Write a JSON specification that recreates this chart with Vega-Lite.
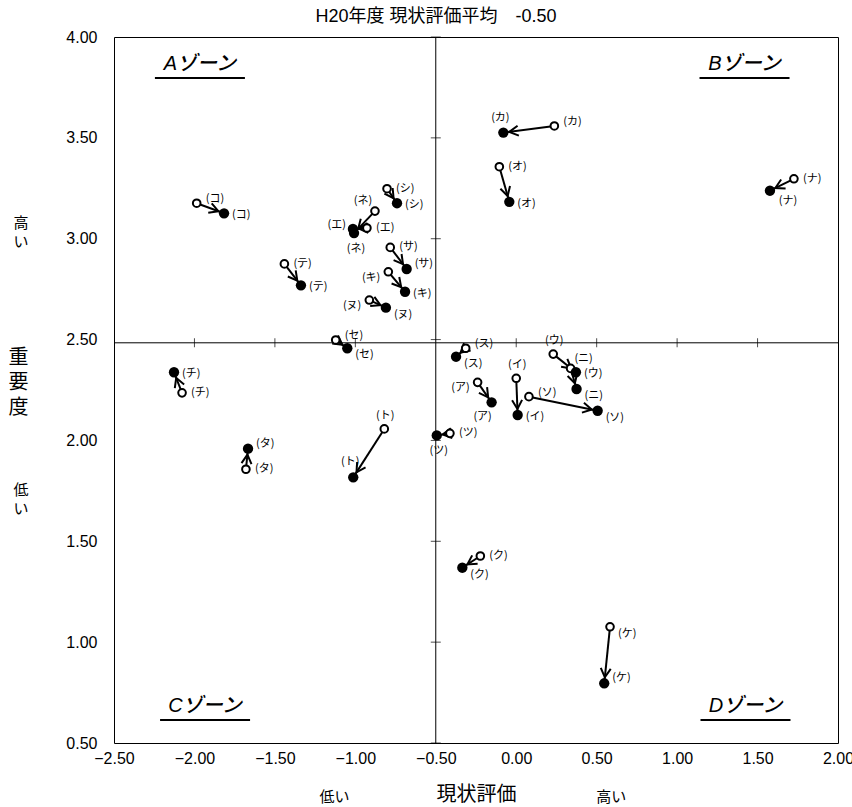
{
  "$schema": "https://vega.github.io/schema/vega-lite/v6.json",
  "width": 724,
  "height": 706,
  "autosize": "none",
  "padding": {"left": 114, "top": 37, "right": 14, "bottom": 64},
  "background": "white",
  "title": {
    "text": "H20年度 現状評価平均　-0.50",
    "font": "Liberation Sans, Noto Sans CJK JP",
    "fontSize": 18,
    "fontWeight": "normal",
    "color": "black",
    "anchor": "middle",
    "dx": -40,
    "offset": 3
  },
  "config": {
    "view": {"stroke": "black", "strokeWidth": 1},
    "text": {"font": "Noto Sans CJK JP", "fontSize": 11, "baseline": "middle", "color": "black", "lineBreak": "\n"}
  },
  "datasets": {
    "pts": [
      {"name": "(ア)", "x0": -0.240, "y0": 2.288, "x1": -0.153, "y1": 2.189},
      {"name": "(イ)", "x0": 0.000, "y0": 2.308, "x1": 0.009, "y1": 2.126},
      {"name": "(ウ)", "x0": 0.230, "y0": 2.428, "x1": 0.371, "y1": 2.338},
      {"name": "(エ)", "x0": -0.928, "y0": 3.053, "x1": -1.015, "y1": 3.048},
      {"name": "(オ)", "x0": -0.105, "y0": 3.357, "x1": -0.043, "y1": 3.183},
      {"name": "(カ)", "x0": 0.237, "y0": 3.559, "x1": -0.080, "y1": 3.526},
      {"name": "(キ)", "x0": -0.795, "y0": 2.836, "x1": -0.691, "y1": 2.737},
      {"name": "(ク)", "x0": -0.223, "y0": 1.427, "x1": -0.335, "y1": 1.369},
      {"name": "(ケ)", "x0": 0.583, "y0": 1.076, "x1": 0.547, "y1": 0.796},
      {"name": "(コ)", "x0": -1.986, "y0": 3.176, "x1": -1.816, "y1": 3.126},
      {"name": "(サ)", "x0": -0.783, "y0": 2.957, "x1": -0.681, "y1": 2.850},
      {"name": "(シ)", "x0": -0.803, "y0": 3.248, "x1": -0.741, "y1": 3.176},
      {"name": "(ス)", "x0": -0.314, "y0": 2.457, "x1": -0.374, "y1": 2.415},
      {"name": "(セ)", "x0": -1.122, "y0": 2.498, "x1": -1.050, "y1": 2.457},
      {"name": "(ソ)", "x0": 0.079, "y0": 2.217, "x1": 0.506, "y1": 2.147},
      {"name": "(タ)", "x0": -1.680, "y0": 1.857, "x1": -1.667, "y1": 1.959},
      {"name": "(チ)", "x0": -2.077, "y0": 2.236, "x1": -2.127, "y1": 2.338},
      {"name": "(ツ)", "x0": -0.412, "y0": 2.035, "x1": -0.494, "y1": 2.025},
      {"name": "(テ)", "x0": -1.441, "y0": 2.875, "x1": -1.338, "y1": 2.769},
      {"name": "(ト)", "x0": -0.820, "y0": 2.057, "x1": -1.013, "y1": 1.817},
      {"name": "(ナ)", "x0": 1.726, "y0": 3.297, "x1": 1.577, "y1": 3.238},
      {"name": "(ニ)", "x0": 0.338, "y0": 2.357, "x1": 0.375, "y1": 2.255},
      {"name": "(ヌ)", "x0": -0.913, "y0": 2.696, "x1": -0.810, "y1": 2.658},
      {"name": "(ネ)", "x0": -0.878, "y0": 3.137, "x1": -1.008, "y1": 3.028}
    ],
    "xticks": [{"v": -2.0}, {"v": -1.5}, {"v": -1.0}, {"v": 0.0}, {"v": 0.5}, {"v": 1.0}, {"v": 1.5}],
    "yticks": [{"v": 0.5}, {"v": 1.0}, {"v": 1.5}, {"v": 2.0}, {"v": 2.5}, {"v": 3.0}, {"v": 3.5}, {"v": 4.0}],
    "zones": [
      {"zone": "Aゾーン", "x": -1.966, "y": 3.866},
      {"zone": "Bゾーン", "x": 1.419, "y": 3.866},
      {"zone": "Cゾーン", "x": -1.934, "y": 0.683},
      {"zone": "Dゾーン", "x": 1.425, "y": 0.683}
    ],
    "ynotes": [
      {"t": "高\nい", "y": 3.078},
      {"t": "低\nい", "y": 1.754}
    ],
    "xnotes": [
      {"t": "低い", "x": -1.13},
      {"t": "高い", "x": 0.59}
    ]
  },
  "encoding": {
    "x": {"type": "quantitative"},
    "y": {"type": "quantitative"}
  },
  "layer": [
    {
      "data": {"values": [{}]},
      "mark": {"type": "rule", "color": "black", "strokeWidth": 1},
      "encoding": {"x": {"datum": -0.5, "type": "quantitative",
        "scale": {"domain": [-2.5, 2.0], "nice": false, "zero": false},
        "axis": {
          "values": [-2.5, -2.0, -1.5, -1.0, -0.5, 0.0, 0.5, 1.0, 1.5, 2.0],
          "format": ".2f", "domain": false, "ticks": false, "grid": false,
          "labelFlush": false, "labelOverlap": false,
          "labelFont": "Liberation Sans", "labelFontSize": 16, "labelColor": "black", "labelPadding": 7,
          "title": "現状評価", "titleFont": "Noto Sans CJK JP", "titleFontSize": 20, "titleFontWeight": "normal",
          "titleColor": "black", "titlePadding": 18
        }}}
    },
    {
      "data": {"values": [{}]},
      "mark": {"type": "rule", "color": "black", "strokeWidth": 1},
      "encoding": {"y": {"datum": 2.484, "type": "quantitative",
        "scale": {"domain": [0.5, 4.0], "nice": false, "zero": false},
        "axis": {
          "values": [0.5, 1.0, 1.5, 2.0, 2.5, 3.0, 3.5, 4.0],
          "format": ".2f", "domain": false, "ticks": false, "grid": false,
          "labelFlush": false, "labelOverlap": false,
          "labelFont": "Liberation Sans", "labelFontSize": 16, "labelColor": "black", "labelPadding": 17,
          "title": ["重", "要", "度"], "titleFont": "Noto Sans CJK JP", "titleFontSize": 20, "titleFontWeight": "normal",
          "titleColor": "black", "titleAngle": 0, "titleX": -96, "titleY": 320, "titleAlign": "center",
          "titleBaseline": "middle", "titleLineHeight": 25
        }}}
    },
    {
      "data": {"name": "xticks"},
      "mark": {"type": "tick", "orient": "vertical", "size": 9, "thickness": 1, "color": "black"},
      "encoding": {"x": {"field": "v", "type": "quantitative"}, "y": {"datum": 2.484, "type": "quantitative"}}
    },
    {
      "data": {"name": "yticks"},
      "mark": {"type": "tick", "orient": "horizontal", "size": 10, "thickness": 1, "color": "black"},
      "encoding": {"y": {"field": "v", "type": "quantitative"}, "x": {"datum": -0.5, "type": "quantitative"}}
    },
    {
      "data": {"name": "pts"},
      "mark": {"type": "rule", "color": "black", "strokeWidth": 2},
      "encoding": {
        "x": {"field": "x0", "type": "quantitative"},
        "y": {"field": "y0", "type": "quantitative"},
        "x2": {"field": "x1"},
        "y2": {"field": "y1"}
      }
    },
    {
      "data": {"name": "pts"},
      "transform": [{"calculate": "atan2(-(datum.y1 - datum.y0) * 201.714, (datum.x1 - datum.x0) * 160.889) * 180 / PI", "as": "ang"}],
      "mark": {"type": "point", "shape": "M -1.5 -0.5 L -0.6 0 L -1.5 0.5", "size": 400, "filled": false, "stroke": "black", "strokeWidth": 2, "opacity": 1},
      "encoding": {
        "x": {"field": "x1", "type": "quantitative"},
        "y": {"field": "y1", "type": "quantitative"},
        "angle": {"field": "ang", "type": "quantitative", "scale": null}
      }
    },
    {
      "data": {"name": "pts"},
      "mark": {"type": "point", "shape": "circle", "size": 58, "filled": false, "fill": "white", "stroke": "black", "strokeWidth": 2, "opacity": 1},
      "encoding": {
        "x": {"field": "x0", "type": "quantitative"},
        "y": {"field": "y0", "type": "quantitative"}
      }
    },
    {
      "data": {"name": "pts"},
      "mark": {"type": "point", "shape": "circle", "size": 107, "filled": true, "color": "black", "opacity": 1},
      "encoding": {
        "x": {"field": "x1", "type": "quantitative"},
        "y": {"field": "y1", "type": "quantitative"}
      }
    },
    {
      "data": {"name": "pts"},
      "transform": [{"filter": {"field": "name", "oneOf": ["(シ)", "(エ)", "(サ)", "(テ)", "(ツ)", "(チ)", "(タ)", "(オ)", "(ナ)", "(ク)"]}}],
      "mark": {"type": "text", "align": "left", "dx": 9, "dy": 0},
      "encoding": {"x": {"field": "x0", "type": "quantitative"}, "y": {"field": "y0", "type": "quantitative"}, "text": {"field": "name"}}
    },
    {
      "data": {"name": "pts"},
      "transform": [{"filter": {"field": "name", "oneOf": ["(コ)", "(セ)", "(ス)", "(ソ)", "(カ)"]}}],
      "mark": {"type": "text", "align": "left", "dx": 9, "dy": -4},
      "encoding": {"x": {"field": "x0", "type": "quantitative"}, "y": {"field": "y0", "type": "quantitative"}, "text": {"field": "name"}}
    },
    {
      "data": {"name": "pts"},
      "transform": [{"filter": {"field": "name", "oneOf": ["(ケ)"]}}],
      "mark": {"type": "text", "align": "left", "dx": 8, "dy": 7},
      "encoding": {"x": {"field": "x0", "type": "quantitative"}, "y": {"field": "y0", "type": "quantitative"}, "text": {"field": "name"}}
    },
    {
      "data": {"name": "pts"},
      "transform": [{"filter": {"field": "name", "oneOf": ["(キ)", "(ヌ)", "(ア)"]}}],
      "mark": {"type": "text", "align": "right", "dx": -8, "dy": 6},
      "encoding": {"x": {"field": "x0", "type": "quantitative"}, "y": {"field": "y0", "type": "quantitative"}, "text": {"field": "name"}}
    },
    {
      "data": {"name": "pts"},
      "transform": [{"filter": {"field": "name", "oneOf": ["(イ)", "(ウ)", "(ト)"]}}],
      "mark": {"type": "text", "align": "center", "dx": 1, "dy": -13},
      "encoding": {"x": {"field": "x0", "type": "quantitative"}, "y": {"field": "y0", "type": "quantitative"}, "text": {"field": "name"}}
    },
    {
      "data": {"name": "pts"},
      "transform": [{"filter": {"field": "name", "oneOf": ["(ネ)"]}}],
      "mark": {"type": "text", "align": "center", "dx": -12, "dy": -10},
      "encoding": {"x": {"field": "x0", "type": "quantitative"}, "y": {"field": "y0", "type": "quantitative"}, "text": {"field": "name"}}
    },
    {
      "data": {"name": "pts"},
      "transform": [{"filter": {"field": "name", "oneOf": ["(ニ)"]}}],
      "mark": {"type": "text", "align": "center", "dx": 13, "dy": -9},
      "encoding": {"x": {"field": "x0", "type": "quantitative"}, "y": {"field": "y0", "type": "quantitative"}, "text": {"field": "name"}}
    },
    {
      "data": {"name": "pts"},
      "transform": [{"filter": {"field": "name", "oneOf": ["(コ)", "(シ)", "(キ)", "(テ)", "(イ)", "(ウ)", "(オ)", "(チ)"]}}],
      "mark": {"type": "text", "align": "left", "dx": 8, "dy": 2},
      "encoding": {"x": {"field": "x1", "type": "quantitative"}, "y": {"field": "y1", "type": "quantitative"}, "text": {"field": "name"}}
    },
    {
      "data": {"name": "pts"},
      "transform": [{"filter": {"field": "name", "oneOf": ["(ヌ)", "(セ)", "(ス)", "(ソ)", "(ニ)", "(ク)"]}}],
      "mark": {"type": "text", "align": "left", "dx": 8, "dy": 7},
      "encoding": {"x": {"field": "x1", "type": "quantitative"}, "y": {"field": "y1", "type": "quantitative"}, "text": {"field": "name"}}
    },
    {
      "data": {"name": "pts"},
      "transform": [{"filter": {"field": "name", "oneOf": ["(サ)", "(タ)", "(ケ)"]}}],
      "mark": {"type": "text", "align": "left", "dx": 8, "dy": -5},
      "encoding": {"x": {"field": "x1", "type": "quantitative"}, "y": {"field": "y1", "type": "quantitative"}, "text": {"field": "name"}}
    },
    {
      "data": {"name": "pts"},
      "transform": [{"filter": {"field": "name", "oneOf": ["(エ)"]}}],
      "mark": {"type": "text", "align": "right", "dx": -7, "dy": -4},
      "encoding": {"x": {"field": "x1", "type": "quantitative"}, "y": {"field": "y1", "type": "quantitative"}, "text": {"field": "name"}}
    },
    {
      "data": {"name": "pts"},
      "transform": [{"filter": {"field": "name", "oneOf": ["(ネ)", "(ツ)"]}}],
      "mark": {"type": "text", "align": "center", "dx": 2, "dy": 16},
      "encoding": {"x": {"field": "x1", "type": "quantitative"}, "y": {"field": "y1", "type": "quantitative"}, "text": {"field": "name"}}
    },
    {
      "data": {"name": "pts"},
      "transform": [{"filter": {"field": "name", "oneOf": ["(ア)"]}}],
      "mark": {"type": "text", "align": "center", "dx": -9, "dy": 15},
      "encoding": {"x": {"field": "x1", "type": "quantitative"}, "y": {"field": "y1", "type": "quantitative"}, "text": {"field": "name"}}
    },
    {
      "data": {"name": "pts"},
      "transform": [{"filter": {"field": "name", "oneOf": ["(ナ)"]}}],
      "mark": {"type": "text", "align": "center", "dx": 18, "dy": 10},
      "encoding": {"x": {"field": "x1", "type": "quantitative"}, "y": {"field": "y1", "type": "quantitative"}, "text": {"field": "name"}}
    },
    {
      "data": {"name": "pts"},
      "transform": [{"filter": {"field": "name", "oneOf": ["(カ)", "(ト)"]}}],
      "mark": {"type": "text", "align": "center", "dx": -3, "dy": -15},
      "encoding": {"x": {"field": "x1", "type": "quantitative"}, "y": {"field": "y1", "type": "quantitative"}, "text": {"field": "name"}}
    },
    {
      "data": {"name": "zones"},
      "mark": {"type": "text", "font": "Liberation Sans, Noto Sans CJK JP", "fontSize": 20, "fontStyle": "italic", "fontWeight": 500, "color": "black", "align": "center", "baseline": "middle"},
      "encoding": {"x": {"field": "x", "type": "quantitative"}, "y": {"field": "y", "type": "quantitative"}, "text": {"field": "zone"}}
    },
    {
      "data": {"name": "zones"},
      "mark": {"type": "tick", "orient": "horizontal", "size": 90, "thickness": 2, "color": "black", "yOffset": 14, "opacity": 1},
      "encoding": {"x": {"field": "x", "type": "quantitative"}, "y": {"field": "y", "type": "quantitative"}}
    },
    {
      "data": {"name": "ynotes"},
      "mark": {"type": "text", "fontSize": 15, "lineHeight": 19, "color": "black", "align": "center", "baseline": "middle", "dx": -93, "lineBreak": "\n"},
      "encoding": {"x": {"datum": -2.5, "type": "quantitative"}, "y": {"field": "y", "type": "quantitative"}, "text": {"field": "t"}}
    },
    {
      "data": {"name": "xnotes"},
      "mark": {"type": "text", "fontSize": 15, "color": "black", "align": "center", "baseline": "middle", "dy": 54},
      "encoding": {"x": {"field": "x", "type": "quantitative"}, "y": {"datum": 0.5, "type": "quantitative"}, "text": {"field": "t"}}
    }
  ]
}
